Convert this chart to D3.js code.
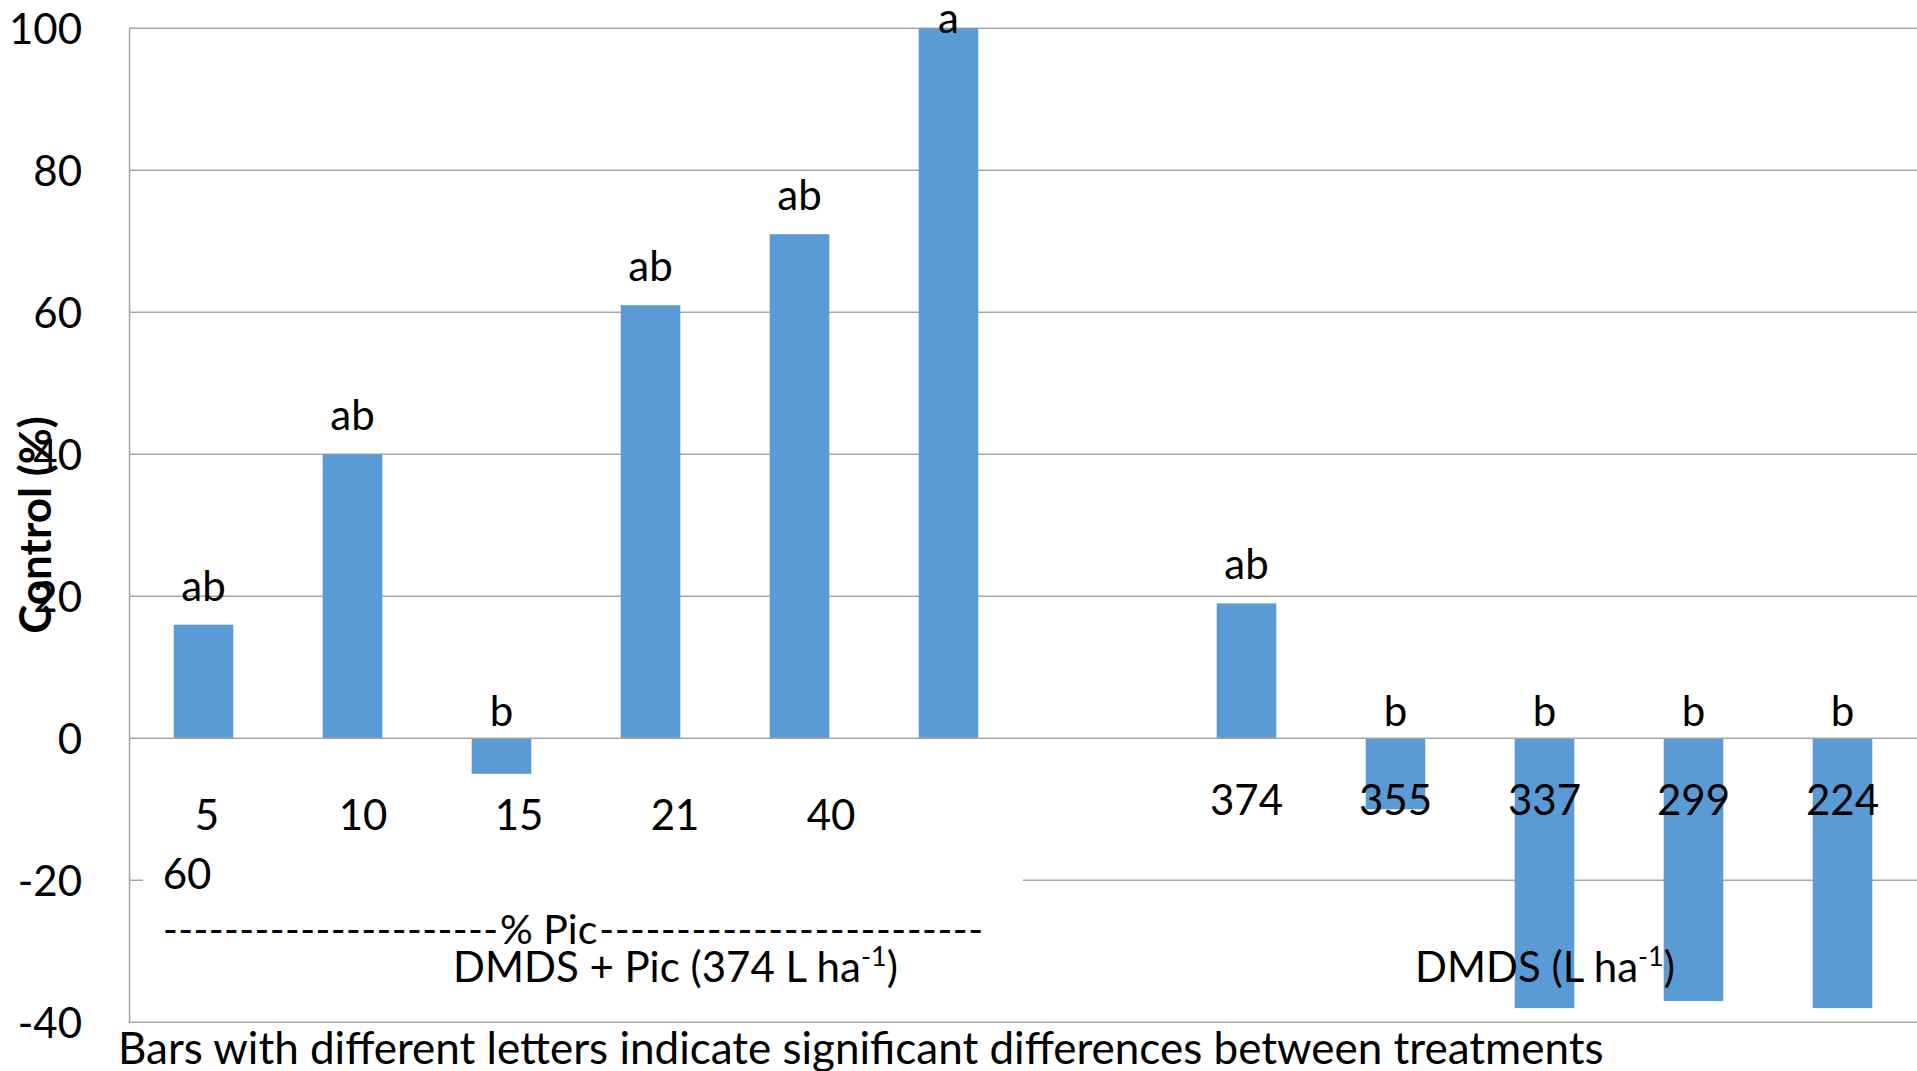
<!DOCTYPE html>
<html>
<head>
<meta charset="utf-8">
<script src="https://cdn.jsdelivr.net/npm/d3@7"></script>
<style>
  html, body { margin: 0; padding: 0; background: #fff; }
  svg { display: block; }
  text { font-family: Lato, "Open Sans", sans-serif; fill: #000; }
</style>
</head>
<body>
<svg id="chart" width="1917" height="1071"></svg>
<script>
// Control (%) by treatment
const picRates    = ["5", "10", "15", "21", "40", "60"];     // % Pic in DMDS + Pic (374 L ha-1)
const picControl  = [16, 40, -5, 61, 71, 100];
const picLetters  = ["ab", "ab", "b", "ab", "ab", "a"];

const dmdsRates   = ["374", "355", "337", "299", "224"];     // DMDS alone, L ha-1
const dmdsControl = [19, -10, -38, -37, -38];
const dmdsLetters = ["ab", "b", "b", "b", "b"];

const yTicks = [-40, -20, 0, 20, 40, 60, 80, 100];

const yTitle    = "Control (%)";
const picTitle  = "DMDS + Pic (374 L ha";
const dmdsTitle = "DMDS (L ha";
const picRuleLeft  = "----------------------";
const picRuleMid   = "% Pic";
const picRuleRight = "-------------------------";
const footnote  = "Bars with different letters indicate significant differences between treatments";

// one slot per bar, with an empty slot separating the two groups
const rows = [];
picRates.forEach((r, i) => rows.push({ group: "pic", rate: r, value: picControl[i], letter: picLetters[i] }));
rows.push({ group: "gap", rate: "", value: null, letter: "" });
dmdsRates.forEach((r, i) => rows.push({ group: "dmds", rate: r, value: dmdsControl[i], letter: dmdsLetters[i] }));
rows.forEach((d, i) => d.slot = i);

const svg = d3.select("#chart");
const plotLeft = 129, plotRight = 1917, plotTop = 28.3, plotBottom = 1022.3;

const x = d3.scaleBand()
  .domain(rows.map(d => d.slot))
  .range([plotLeft, plotRight])
  .paddingInner(0.6)
  .paddingOuter(0.3);

const y = d3.scaleLinear().domain([-40, 100]).range([plotBottom, plotTop]);

const gridColor = "#a6a6a6";
const barColor = "#5b9bd5";

// horizontal gridlines
svg.append("g")
  .selectAll("line")
  .data(yTicks.filter(t => t !== 0))
  .join("line")
  .attr("x1", plotLeft).attr("x2", plotRight)
  .attr("y1", d => y(d)).attr("y2", d => y(d))
  .attr("stroke", gridColor).attr("stroke-width", 1.5);

// vertical axis with labels (plain hyphen for negatives)
const yAxis = d3.axisLeft(y).tickValues(yTicks).tickSize(0).tickPadding(47).tickFormat(d => String(d));
const gy = svg.append("g").attr("transform", `translate(${plotLeft},0)`).call(yAxis);
gy.select(".domain").attr("stroke", gridColor).attr("stroke-width", 1.5);
gy.selectAll("text")
  .attr("font-family", 'Lato, "Open Sans", sans-serif')
  .attr("font-size", 42)
  .attr("dy", "0.36em")
  .attr("fill", "#000");

// bars
const bars = rows.filter(d => d.value !== null);
svg.append("g")
  .selectAll("rect")
  .data(bars)
  .join("rect")
  .attr("x", d => x(d.slot))
  .attr("width", x.bandwidth())
  .attr("y", d => y(Math.max(0, d.value)))
  .attr("height", d => Math.abs(y(d.value) - y(0)))
  .attr("fill", barColor);

// zero line over the bars
svg.append("line")
  .attr("x1", plotLeft).attr("x2", plotRight)
  .attr("y1", y(0)).attr("y2", y(0))
  .attr("stroke", gridColor).attr("stroke-width", 1.5);

// significance letters
svg.append("g")
  .selectAll("text")
  .data(bars)
  .join("text")
  .attr("x", d => x(d.slot) + x.bandwidth() / 2)
  .attr("y", d => d.value > 0 ? Math.max(y(d.value) - 24, plotTop + 5) : y(0) - 12)
  .attr("text-anchor", "middle")
  .attr("font-size", 42)
  .text(d => d.letter);

// white text box holding the DMDS + Pic labels
const box = svg.append("g");
box.append("rect")
  .attr("x", 143).attr("y", 785).attr("width", 880).attr("height", 220)
  .attr("fill", "#fff");

// rates flow left to right inside the box and wrap
const flowStart = 207, flowStep = 156, flowRight = 980, wrapStart = 187, lineGap = 59;
let cx = flowStart, line = 0;
const picRows = rows.filter(d => d.group === "pic");
picRows.forEach(d => {
  if (cx > flowRight) { line += 1; cx = wrapStart; }
  box.append("text")
    .attr("x", cx).attr("y", 830 + line * lineGap)
    .attr("text-anchor", "middle")
    .attr("font-size", 42)
    .text(d.rate);
  cx += flowStep;
});

// dashed rule with the "% Pic" caption, spanning the box
const ruleStart = 163, ruleEnd = 983, ruleMidX = 500;
box.append("text")
  .attr("x", ruleStart).attr("y", 944)
  .attr("font-size", 40)
  .attr("textLength", ruleMidX - ruleStart - 2)
  .attr("lengthAdjust", "spacing")
  .text(picRuleLeft);
const mid = box.append("text")
  .attr("x", ruleMidX).attr("y", 944)
  .attr("font-size", 41)
  .text(picRuleMid);
const midEnd = ruleMidX + mid.node().getComputedTextLength() + 2;
box.append("text")
  .attr("x", midEnd).attr("y", 944)
  .attr("font-size", 40)
  .attr("textLength", ruleEnd - midEnd)
  .attr("lengthAdjust", "spacing")
  .text(picRuleRight);

const pt = box.append("text")
  .attr("x", 453).attr("y", 982)
  .attr("font-size", 42);
pt.append("tspan").text(picTitle);
pt.append("tspan").attr("font-size", 27).attr("dy", -16).text("-1");
pt.append("tspan").attr("dy", 16).text(")");

// DMDS rate labels, centred on their bars
svg.append("g")
  .selectAll("text")
  .data(rows.filter(d => d.group === "dmds"))
  .join("text")
  .attr("x", d => x(d.slot) + x.bandwidth() / 2)
  .attr("y", 815)
  .attr("text-anchor", "middle")
  .attr("font-size", 42)
  .text(d => d.rate);

const dt = svg.append("text")
  .attr("x", 1545).attr("y", 982)
  .attr("text-anchor", "middle")
  .attr("font-size", 42);
dt.append("tspan").text(dmdsTitle);
dt.append("tspan").attr("font-size", 27).attr("dy", -16).text("-1");
dt.append("tspan").attr("dy", 16).text(")");

// y axis title
svg.append("text")
  .attr("transform", "translate(51,525) rotate(-90)")
  .attr("text-anchor", "middle")
  .attr("font-size", 44)
  .attr("font-weight", "bold")
  .text(yTitle);

// footnote
svg.append("text")
  .attr("x", 118).attr("y", 1064)
  .attr("font-size", 44)
  .text(footnote);
</script>
</body>
</html>
